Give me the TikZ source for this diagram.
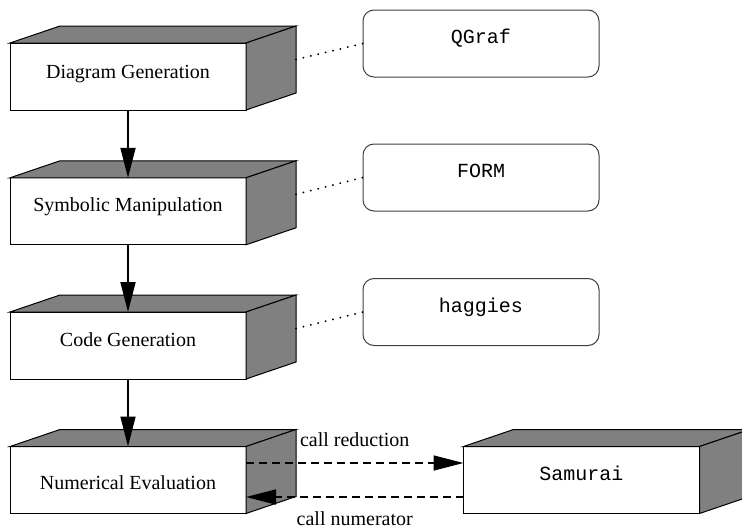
\documentclass[tikz,border=0pt]{standalone}
\usepackage{fontspec}
\setmainfont{Liberation Serif}
\setmonofont{Liberation Mono}
\usetikzlibrary{arrows.meta}
\definecolor{facegray}{HTML}{808080}
\definecolor{roundline}{HTML}{404040}
\tikzset{
  front/.style={draw=black, fill=white, line width=1pt, minimum width=236pt, minimum height=67pt, inner sep=0pt, outer sep=0pt},
  face/.style={draw=black, fill=facegray, line width=1pt, line join=miter},
  serif/.style={font=\fontsize{20}{24}\selectfont, inner sep=0pt, anchor=base},
  tool/.style={draw=roundline, fill=white, line width=1pt, rounded corners=11pt, minimum width=236pt, minimum height=67pt, inner sep=0pt, outer sep=0pt, font=\fontsize{20}{24}\selectfont\ttfamily, text height=10pt, text depth=10pt},
  mono/.style={font=\fontsize{20}{24}\selectfont\ttfamily, inner sep=0pt, anchor=base},
  flow/.style={line width=1.8pt, -{Triangle[length=30pt, width=15pt]}},
  call/.style={line width=1.6pt, dash pattern=on 8pt off 5pt, -{Triangle[length=30pt, width=15pt]}},
  link/.style={line width=2pt, dash pattern=on 0.1pt off 7.5pt, line cap=round},
}
\begin{document}
\begin{tikzpicture}[x=1pt, y=-1pt]
\useasboundingbox (0,0) rectangle (742,530);
\clip (0,0) rectangle (742,530);
% front faces
\node[front] (gen)  at (128,76.5)  {};
\node[front] (sym)  at (128,211.3) {};
\node[front] (code) at (128,345.5) {};
\node[front] (num)  at (128,480)   {};
\node[front] (sam)  at (581.5,480) {};
% top and side faces
\foreach \n in {gen,sym,code,num,sam} {
  \filldraw[face] (\n.north west) -- ++(50,-17) -- ([shift={(50,-17)}]\n.north east) -- (\n.north east) -- cycle;
  \filldraw[face] (\n.north east) -- ++(50,-17) -- ([shift={(50,-17)}]\n.south east) -- (\n.south east) -- cycle;
  \coordinate (\n-side) at ([shift={(50,-17)}]\n.east);
}
% labels
\node[serif] (genT)  at (128,78.3)  {Diagram Generation};
\node[serif] (symT)  at (128,211.7) {Symbolic Manipulation};
\node[serif] (codeT) at (128,346)   {Code Generation};
\node[serif] (numT)  at (128,489.3) {Numerical Evaluation};
\node[mono]  (samT)  at (581.5,480.7) {Samurai};
% tool boxes
\node[tool] (qgraf)   at (481,43.5)  {QGraf};
\node[tool] (form)    at (481,177.5) {FORM};
\node[tool] (haggies) at (481,312)   {haggies};
% dotted links
\draw[link] (gen-side)  -- (qgraf.west);
\draw[link] (sym-side)  -- (form.west);
\draw[link] (code-side) -- (haggies.west);
% flow arrows
\draw[flow] (gen.south)  -- (sym.north);
\draw[flow] (sym.south)  -- (code.north);
\draw[flow] (code.south) -- (num.north);
% calls
\draw[call] ([yshift=17pt]num.east) -- node[serif, anchor=base, yshift=16.3pt] (red) {call reduction} ([yshift=17pt]sam.west);
\draw[call] ([yshift=-17pt]sam.west) -- node[serif, anchor=base, yshift=-28pt] (numer) {call numerator} ([yshift=-17pt]num.east);
\end{tikzpicture}
\end{document}
